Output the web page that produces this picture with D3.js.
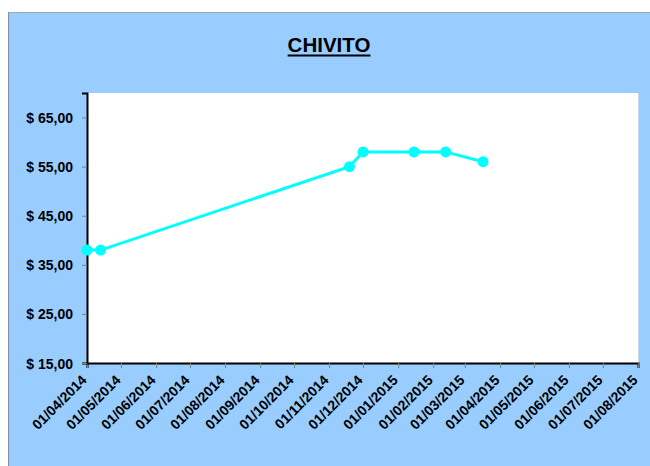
<!DOCTYPE html>
<html>
<head>
<meta charset="utf-8">
<script src="https://cdn.jsdelivr.net/npm/d3@7"></script>
<style>
  body { margin: 0; background: #fff; }
  svg text { font-family: "Liberation Sans", Arial, sans-serif; }
</style>
</head>
<body>
<div id="canvas"></div>
<script>
const dates = ["2014-04-01", "2014-04-13", "2014-11-19", "2014-12-01", "2015-01-15", "2015-02-12", "2015-03-17"];
const prices = [38, 38, 55, 58, 58, 58, 56];
const yTicks = [15, 25, 35, 45, 55, 65];
const xStart = "2014-04-01", xEnd = "2015-08-01";

const parse = d3.timeParse("%Y-%m-%d");
const data = dates.map((d, i) => ({ date: parse(d), price: prices[i] }));

const W = 650, H = 466;
const margin = { top: 93, right: 12, bottom: 103, left: 87 },
    width = W - margin.left - margin.right,
    height = H - margin.top - margin.bottom;

const root = d3.select("#canvas")
    .append("svg")
    .attr("width", W)
    .attr("height", H);

// outer chart box
root.append("rect")
    .attr("x", 8).attr("y", 12)
    .attr("width", W).attr("height", H)
    .attr("fill", "#99ccff");
root.append("line").attr("x1", 8).attr("x2", W).attr("y1", 12.5).attr("y2", 12.5)
    .attr("stroke", "#a6a6a6");
root.append("line").attr("x1", 8.5).attr("x2", 8.5).attr("y1", 12).attr("y2", H)
    .attr("stroke", "#7f8fa8");

// text above chart, mostly off screen
root.append("text").attr("x", 74).attr("y", -3)
    .style("font-size", "14px").style("font-weight", "bold").text("y");

// title
const title = root.append("text")
    .attr("x", 329).attr("y", 52)
    .attr("text-anchor", "middle")
    .style("font-size", "20.5px").style("font-weight", "bold")
    .text("CHIVITO");
const tb = title.node().getBBox();
root.append("line")
    .attr("x1", tb.x).attr("x2", tb.x + tb.width)
    .attr("y1", 55.5).attr("y2", 55.5)
    .attr("stroke", "#000").attr("stroke-width", 2);

const svg = root.append("g")
    .attr("transform", `translate(${margin.left},${margin.top})`);

svg.append("rect")
    .attr("width", width).attr("height", height)
    .attr("fill", "#fff");
svg.append("line").attr("x1", width + 0.5).attr("x2", width + 0.5)
    .attr("y1", 0).attr("y2", height).attr("stroke", "#c8d8ec");

const x = d3.scaleTime()
    .domain([parse(xStart), parse(xEnd)])
    .range([0, width]);

const y = d3.scaleLinear()
    .domain([15, 70])
    .range([height, 0]);

// X axis
const xAxis = svg.append("g")
    .attr("transform", `translate(0,${height})`)
    .call(d3.axisBottom(x)
        .ticks(d3.timeMonth.every(1))
        .tickSize(5)
        .tickFormat(d3.timeFormat("%d/%m/%Y")));
xAxis.select(".domain").attr("stroke", "#000").attr("stroke-width", 2);
xAxis.selectAll(".tick line").attr("stroke", "#808080");
xAxis.selectAll("text")
    .attr("text-anchor", "end")
    .attr("y", 0).attr("dx", 0).attr("dy", 0)
    .attr("transform", "translate(0,18) rotate(-45)")
    .style("font-size", "14px").style("font-weight", "bold").attr("fill", "#000");

// Y axis
const yAxis = svg.append("g")
    .call(d3.axisLeft(y)
        .tickValues(yTicks)
        .tickSize(5)
        .tickFormat(d => "$ " + d3.format(".2f")(d).replace(".", ",")));
yAxis.select(".domain").attr("stroke", "#000").attr("stroke-width", 2);
yAxis.selectAll(".tick line").attr("stroke", "#808080");
yAxis.selectAll("text")
    .attr("x", -14).attr("dy", "0.36em")
    .style("font-size", "14px").style("font-weight", "bold").attr("fill", "#000");

// line
svg.append("path")
    .datum(data)
    .attr("fill", "none")
    .attr("stroke", "#00ffff")
    .attr("stroke-width", 3)
    .attr("d", d3.line().x(d => x(d.date)).y(d => y(d.price)));

// dots
svg.append("g")
    .selectAll("circle")
    .data(data)
    .enter()
    .append("circle")
    .attr("cx", d => x(d.date))
    .attr("cy", d => y(d.price))
    .attr("r", 5.5)
    .attr("fill", "#00ffff");
</script>
</body>
</html>
